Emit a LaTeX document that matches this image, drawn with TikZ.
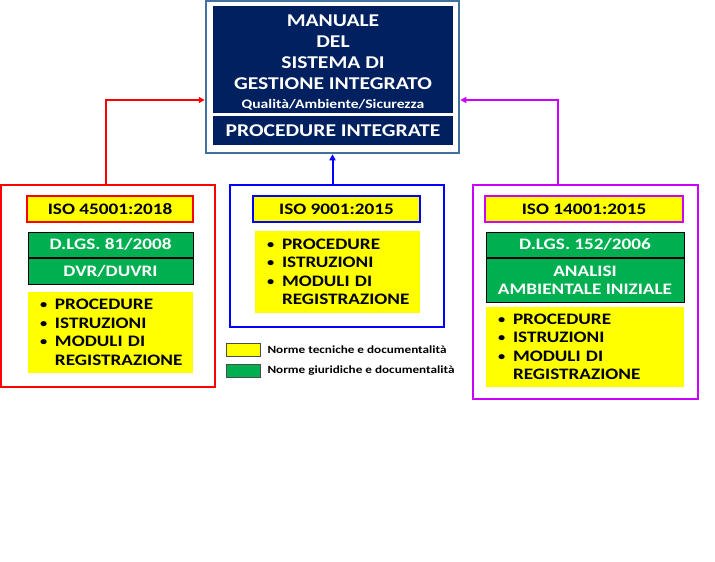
\documentclass[tikz,border=0pt]{standalone}
\usepackage{fontspec}
\setmainfont{Carlito}[FakeStretch=1.2]
\usetikzlibrary{arrows.meta, positioning}

\definecolor{navy}{HTML}{002060}
\definecolor{framegray}{HTML}{41719C}
\definecolor{normgreen}{HTML}{00B050}
\definecolor{normyellow}{HTML}{FFFF00}
\definecolor{sgsred}{HTML}{FF0000}
\definecolor{sgqblue}{HTML}{0000FF}
\definecolor{sgamag}{HTML}{CC00FF}

\newcommand{\listbullet}{\makebox[15pt][l]{\raisebox{1pt}{\fontsize{12}{12}\selectfont\textbullet}}}
\newcommand{\listitems}{%
  \listbullet PROCEDURE\\
  \listbullet ISTRUZIONI\\
  \listbullet MODULI DI\\
  \hspace*{15pt}\mbox{REGISTRAZIONE}}

\begin{document}
\begin{tikzpicture}[
  x=1pt, y=-1pt,
  every node/.style={font=\bfseries, inner sep=0pt},
  frame/.style={draw, line width=2pt, minimum width=#1},
  navybox/.style={fill=navy, text=white, minimum width=240pt, align=center},
  isolabel/.style={fill=normyellow, draw=#1, line width=2.5pt, minimum height=26pt, font=\bfseries\fontsize{16}{18}\selectfont},
  lawbox/.style={fill=normgreen, draw=black, line width=1pt, text=white, align=center, font=\bfseries\fontsize{16}{18}\selectfont},
  listbox/.style={fill=normyellow, text width=#1, inner xsep=12pt, align=left, font=\bfseries\fontsize{16}{18.5}\selectfont},
  swatch/.style={fill=#1, draw=black!70, line width=0.6pt, minimum width=34pt, minimum height=13pt},
  legendtext/.style={anchor=west, font=\bfseries\fontsize{11}{13}\selectfont},
  >={Triangle[length=6pt, width=6pt]}
]
  \useasboundingbox (0,0) rectangle (715,562);

  % Manuale
  \node (manuale) [frame=253pt, draw=framegray, line width=2.5pt, minimum height=152pt] at (332.5,77) {};
  \node (titolo) [navybox, minimum height=107pt, font=\bfseries\fontsize{18}{21}\selectfont] at (333,59.5)
    {\rule{0pt}{17pt}MANUALE\\ DEL\\ SISTEMA DI\\ GESTIONE INTEGRATO\\[-2pt]
     \fontsize{13}{15}\selectfont Qualità/Ambiente/Sicurezza};
  \node (integrate) [navybox, minimum height=29pt, below=3pt of titolo, font=\bfseries\fontsize{18}{20}\selectfont] {PROCEDURE INTEGRATE};

  % Sicurezza
  \node (sicurezza) [frame=214pt, draw=sgsred, minimum height=202pt] at (108,286) {};
  \node (iso45) [isolabel=sgsred, minimum width=166pt] at (110,209) {ISO 45001:2018};
  \node (dlgs81) [lawbox, minimum width=165pt, minimum height=25pt] at (110.5,244.5) {D.LGS. 81/2008};
  \node (dvr) [lawbox, minimum width=165pt, minimum height=26pt, below=0pt of dlgs81] {DVR/DUVRI};
  \node (lista45) [listbox=141pt, minimum height=81pt] at (110.5,332.5) {\listitems};

  % Qualita
  \node (qualita) [frame=214pt, draw=sgqblue, minimum height=142pt] at (337,256) {};
  \node (iso9) [isolabel=sgqblue, minimum width=167pt] at (336.5,209) {ISO 9001:2015};
  \node (lista9) [listbox=141pt, minimum height=82pt] at (337.5,272) {\listitems};

  % Ambiente
  \node (ambiente) [frame=225pt, draw=sgamag, minimum height=214pt] at (585.5,292) {};
  \node (iso14) [isolabel=sgamag, minimum width=198pt] at (584,209) {ISO 14001:2015};
  \node (dlgs152) [lawbox, minimum width=198pt, minimum height=25pt] at (585,244.5) {D.LGS. 152/2006};
  \node (analisi) [lawbox, minimum width=198pt, minimum height=44pt, below=0pt of dlgs152] {ANALISI\\ AMBIENTALE INIZIALE};
  \node (lista14) [listbox=174pt, minimum height=80pt] at (585,347) {\listitems};

  % Legenda
  \node (legtec) [swatch=normyellow] at (243,349.5) {};
  \node (legtectxt) [legendtext, right=7pt of legtec] {Norme tecniche e documentalità};
  \node (leggiu) [swatch=normgreen] at (243,370.5) {};
  \node (leggiutxt) [legendtext, right=7pt of leggiu] {Norme giuridiche e documentalità};

  % Frecce
  \draw [->, draw=sgsred, line width=2pt] ([xshift=-2pt]sicurezza.north) |- ([yshift=-23pt]manuale.west);
  \draw [->, draw=sgqblue, line width=2pt] (manuale.south |- qualita.north) -- (manuale.south);
  \draw [->, draw=sgamag, line width=2pt] ([xshift=-28pt]ambiente.north) |- ([yshift=-23pt]manuale.east);
\end{tikzpicture}
\end{document}
